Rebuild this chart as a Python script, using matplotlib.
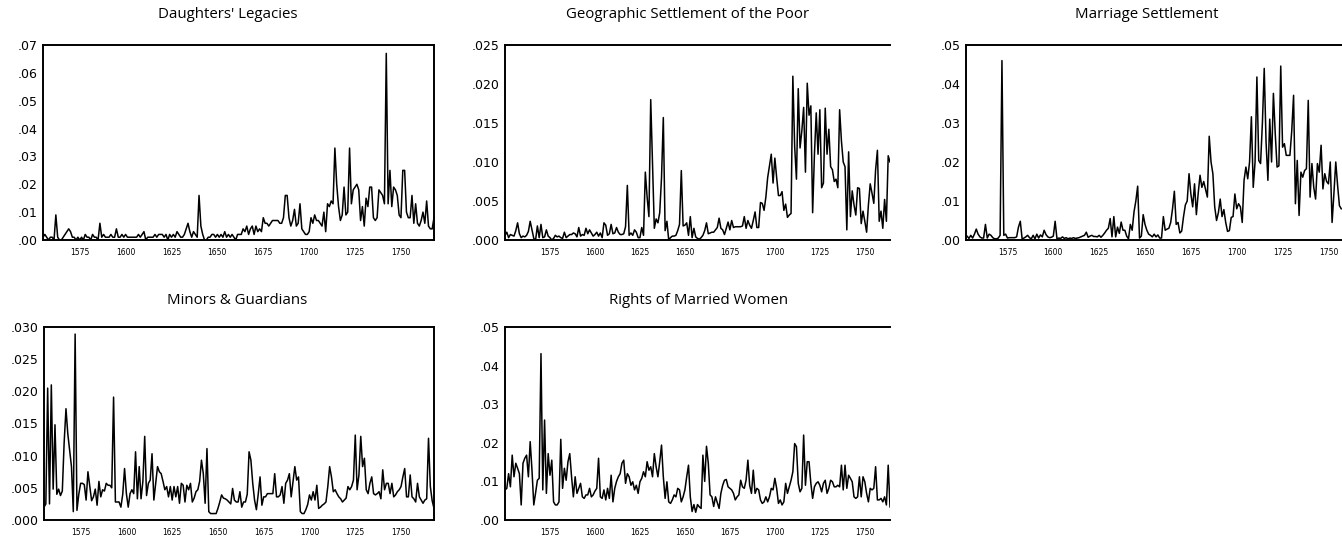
import numpy as np
import matplotlib
matplotlib.use('Agg')
from matplotlib import pyplot as plt
from matplotlib.ticker import FuncFormatter

# annual shares
daughters_start = 1555
daughters = [
    0.001, 0.002, 0.001, 0.000, 0.001, 0.001, 0.000, 0.009, 0.001, 0.000,
    0.000, 0.001, 0.002, 0.003, 0.004, 0.003, 0.001, 0.001, 0.000, 0.001,
    0.000, 0.001, 0.000, 0.002, 0.001, 0.001, 0.000, 0.002, 0.001, 0.001,
    0.000, 0.006, 0.001, 0.002, 0.001, 0.001, 0.001, 0.002, 0.001, 0.001,
    0.004, 0.001, 0.001, 0.002, 0.001, 0.002, 0.001, 0.001, 0.001, 0.001,
    0.001, 0.001, 0.002, 0.001, 0.002, 0.003, 0.000, 0.001, 0.001, 0.001,
    0.001, 0.002, 0.001, 0.002, 0.002, 0.002, 0.001, 0.002, 0.000, 0.002,
    0.001, 0.002, 0.001, 0.003, 0.002, 0.001, 0.001, 0.002, 0.004, 0.006,
    0.003, 0.001, 0.003, 0.002, 0.001, 0.016, 0.005, 0.002, 0.000, 0.000,
    0.001, 0.001, 0.002, 0.002, 0.001, 0.002, 0.001, 0.002, 0.001, 0.003,
    0.001, 0.002, 0.001, 0.002, 0.001, 0.000, 0.002, 0.002, 0.002, 0.004,
    0.003, 0.005, 0.002, 0.004, 0.005, 0.002, 0.005, 0.003, 0.004, 0.003,
    0.008, 0.006, 0.006, 0.005, 0.006, 0.007, 0.007, 0.007, 0.007, 0.006,
    0.006, 0.008, 0.016, 0.016, 0.008, 0.005, 0.007, 0.011, 0.005, 0.006,
    0.013, 0.004, 0.003, 0.002, 0.002, 0.003, 0.008, 0.006, 0.009, 0.007,
    0.007, 0.006, 0.005, 0.010, 0.003, 0.013, 0.012, 0.014, 0.013, 0.033,
    0.020, 0.012, 0.007, 0.009, 0.019, 0.009, 0.010, 0.033, 0.013, 0.018,
    0.019, 0.020, 0.018, 0.007, 0.012, 0.005, 0.015, 0.012, 0.019, 0.019,
    0.008, 0.007, 0.008, 0.018, 0.017, 0.016, 0.013, 0.067, 0.013, 0.025,
    0.012, 0.019, 0.018, 0.016, 0.009, 0.008, 0.025, 0.025, 0.010, 0.008,
    0.008, 0.016, 0.006, 0.013, 0.006, 0.005, 0.007, 0.010, 0.006, 0.014,
    0.005, 0.004, 0.004, 0.008,
]

poor_start = 1550
poor = [
    0.0006, 0.0010, 0.0003, 0.0007, 0.0006, 0.0005, 0.0012, 0.0022, 0.0008, 0.0003,
    0.0005, 0.0004, 0.0006, 0.0011, 0.0024, 0.0013, 0.0002, 0.0000, 0.0018, 0.0003,
    0.0020, 0.0003, 0.0004, 0.0013, 0.0005, 0.0003, 0.0000, 0.0002, 0.0006, 0.0004,
    0.0005, 0.0003, 0.0002, 0.0010, 0.0003, 0.0005, 0.0007, 0.0007, 0.0009, 0.0008,
    0.0004, 0.0016, 0.0005, 0.0007, 0.0006, 0.0015, 0.0008, 0.0013, 0.0009, 0.0005,
    0.0007, 0.0010, 0.0005, 0.0009, 0.0003, 0.0022, 0.0019, 0.0006, 0.0008, 0.0020,
    0.0008, 0.0009, 0.0016, 0.0010, 0.0007, 0.0007, 0.0008, 0.0017, 0.0070, 0.0006,
    0.0009, 0.0006, 0.0013, 0.0010, 0.0003, 0.0003, 0.0016, 0.0006, 0.0087, 0.0055,
    0.0030, 0.0180, 0.0095, 0.0015, 0.0027, 0.0022, 0.0035, 0.0080, 0.0157, 0.0012,
    0.0024, 0.0000, 0.0003, 0.0005, 0.0005, 0.0006, 0.0012, 0.0020, 0.0089, 0.0018,
    0.0019, 0.0022, 0.0006, 0.0030, 0.0003, 0.0015, 0.0004, 0.0002, 0.0001, 0.0003,
    0.0006, 0.0012, 0.0022, 0.0008, 0.0009, 0.0010, 0.0010, 0.0013, 0.0016, 0.0028,
    0.0015, 0.0013, 0.0007, 0.0015, 0.0023, 0.0013, 0.0025, 0.0016, 0.0017, 0.0017,
    0.0017, 0.0017, 0.0018, 0.0030, 0.0015, 0.0025, 0.0019, 0.0015, 0.0025, 0.0036,
    0.0016, 0.0016, 0.0048, 0.0047, 0.0038, 0.0055, 0.0080, 0.0095, 0.0110, 0.0073,
    0.0105, 0.0080, 0.0057, 0.0057, 0.0062, 0.0038, 0.0046, 0.0029, 0.0032, 0.0034,
    0.0210, 0.0120, 0.0078, 0.0194, 0.0118, 0.0140, 0.0170, 0.0087, 0.0201, 0.0160,
    0.0172, 0.0035, 0.0110, 0.0163, 0.0110, 0.0167, 0.0067, 0.0073, 0.0169, 0.0110,
    0.0142, 0.0094, 0.0090, 0.0075, 0.0078, 0.0067, 0.0167, 0.0127, 0.0100, 0.0094,
    0.0013, 0.0113, 0.0030, 0.0063, 0.0045, 0.0032, 0.0067, 0.0066, 0.0021, 0.0037,
    0.0024, 0.0010, 0.0045, 0.0072, 0.0060, 0.0047, 0.0090, 0.0115, 0.0024, 0.0037,
    0.0015, 0.0052, 0.0024, 0.0108, 0.0100,
]

marriage_start = 1552
marriage = [
    0.0005, 0.0010, 0.0004, 0.0012, 0.0005, 0.0015, 0.0028, 0.0015, 0.0008, 0.0005,
    0.0005, 0.0040, 0.0005, 0.0015, 0.0012, 0.0006, 0.0003, 0.0003, 0.0005, 0.0012,
    0.0460, 0.0012, 0.0015, 0.0005, 0.0006, 0.0006, 0.0006, 0.0006, 0.0008, 0.0033,
    0.0048, 0.0003, 0.0005, 0.0008, 0.0012, 0.0006, 0.0003, 0.0012, 0.0003, 0.0015,
    0.0005, 0.0013, 0.0008, 0.0025, 0.0014, 0.0008, 0.0006, 0.0007, 0.0010, 0.0048,
    0.0003, 0.0005, 0.0004, 0.0008, 0.0004, 0.0006, 0.0003, 0.0005, 0.0004, 0.0006,
    0.0004, 0.0005, 0.0006, 0.0008, 0.0010, 0.0012, 0.0020, 0.0007, 0.0010, 0.0012,
    0.0009, 0.0009, 0.0008, 0.0012, 0.0007, 0.0012, 0.0018, 0.0025, 0.0030, 0.0055,
    0.0008, 0.0060, 0.0008, 0.0033, 0.0017, 0.0046, 0.0025, 0.0025, 0.0010, 0.0003,
    0.0040, 0.0025, 0.0072, 0.0100, 0.0138, 0.0005, 0.0010, 0.0065, 0.0040, 0.0025,
    0.0015, 0.0012, 0.0008, 0.0015, 0.0008, 0.0013, 0.0005, 0.0005, 0.0060, 0.0025,
    0.0028, 0.0030, 0.0045, 0.0080, 0.0125, 0.0040, 0.0045, 0.0018, 0.0023, 0.0060,
    0.0090, 0.0100, 0.0170, 0.0118, 0.0085, 0.0144, 0.0065, 0.0120, 0.0166, 0.0135,
    0.0150, 0.0130, 0.0110, 0.0266, 0.0200, 0.0170, 0.0085, 0.0050, 0.0070, 0.0105,
    0.0060, 0.0078, 0.0045, 0.0022, 0.0024, 0.0058, 0.0060, 0.0118, 0.0080, 0.0093,
    0.0085, 0.0045, 0.0153, 0.0187, 0.0157, 0.0200, 0.0316, 0.0135, 0.0200, 0.0418,
    0.0204, 0.0196, 0.0300, 0.0440, 0.0250, 0.0153, 0.0310, 0.0200, 0.0376, 0.0273,
    0.0187, 0.0190, 0.0446, 0.0238, 0.0247, 0.0217, 0.0217, 0.0217, 0.0280, 0.0371,
    0.0093, 0.0204, 0.0063, 0.0174, 0.0161, 0.0178, 0.0183, 0.0358, 0.0110, 0.0196,
    0.0135, 0.0105, 0.0196, 0.0174, 0.0243, 0.0131, 0.0170, 0.0150, 0.0144, 0.0200,
    0.0045, 0.0120, 0.0200, 0.0140, 0.0088, 0.0080,
]

minors_start = 1555
minors = [
    0.0020, 0.0025, 0.0205, 0.0025, 0.0210, 0.0048, 0.0148, 0.0040, 0.0048, 0.0038,
    0.0045, 0.0120, 0.0173, 0.0134, 0.0109, 0.0083, 0.0013, 0.0289, 0.0015, 0.0040,
    0.0057, 0.0057, 0.0055, 0.0031, 0.0075, 0.0052, 0.0030, 0.0036, 0.0048, 0.0023,
    0.0060, 0.0036, 0.0047, 0.0045, 0.0057, 0.0054, 0.0054, 0.0050, 0.0191, 0.0028,
    0.0028, 0.0028, 0.0020, 0.0040, 0.0080, 0.0041, 0.0020, 0.0041, 0.0047, 0.0041,
    0.0106, 0.0033, 0.0083, 0.0033, 0.0060, 0.0130, 0.0038, 0.0057, 0.0062, 0.0103,
    0.0031, 0.0057, 0.0083, 0.0075, 0.0072, 0.0060, 0.0047, 0.0052, 0.0036, 0.0052,
    0.0031, 0.0052, 0.0036, 0.0052, 0.0026, 0.0057, 0.0054, 0.0028, 0.0054, 0.0047,
    0.0057, 0.0028, 0.0034, 0.0044, 0.0047, 0.0060, 0.0093, 0.0072, 0.0026, 0.0111,
    0.0013, 0.0010, 0.0010, 0.0010, 0.0010, 0.0018, 0.0028, 0.0039, 0.0034, 0.0033,
    0.0031, 0.0028, 0.0025, 0.0049, 0.0031, 0.0028, 0.0028, 0.0044, 0.0020, 0.0028,
    0.0028, 0.0040, 0.0106, 0.0093, 0.0057, 0.0031, 0.0016, 0.0040, 0.0067, 0.0023,
    0.0036, 0.0036, 0.0041, 0.0041, 0.0041, 0.0041, 0.0072, 0.0036, 0.0036, 0.0039,
    0.0052, 0.0026, 0.0057, 0.0062, 0.0072, 0.0036, 0.0060, 0.0083, 0.0062, 0.0067,
    0.0013, 0.0010, 0.0010, 0.0016, 0.0024, 0.0039, 0.0031, 0.0044, 0.0031, 0.0054,
    0.0018, 0.0020, 0.0023, 0.0025, 0.0028, 0.0052, 0.0083, 0.0067, 0.0044, 0.0047,
    0.0041, 0.0036, 0.0033, 0.0028, 0.0031, 0.0034, 0.0052, 0.0047, 0.0052, 0.0062,
    0.0132, 0.0047, 0.0070, 0.0130, 0.0083, 0.0096, 0.0047, 0.0041, 0.0057, 0.0067,
    0.0041, 0.0039, 0.0041, 0.0044, 0.0033, 0.0078, 0.0047, 0.0057, 0.0057, 0.0041,
    0.0057, 0.0036, 0.0039, 0.0044, 0.0047, 0.0052, 0.0067, 0.0080, 0.0036, 0.0036,
    0.0070, 0.0036, 0.0033, 0.0028, 0.0057, 0.0036, 0.0031, 0.0026, 0.0031, 0.0033,
    0.0127, 0.0052, 0.0030, 0.0018,
]

wives_start = 1550
wives = [
    0.0078, 0.0082, 0.0120, 0.0086, 0.0168, 0.0112, 0.0147, 0.0134, 0.0120, 0.0039,
    0.0147, 0.0160, 0.0168, 0.0112, 0.0203, 0.0129, 0.0039, 0.0070, 0.0103, 0.0108,
    0.0431, 0.0078, 0.0259, 0.0069, 0.0172, 0.0116, 0.0155, 0.0047, 0.0039, 0.0039,
    0.0047, 0.0209, 0.0082, 0.0134, 0.0103, 0.0151, 0.0172, 0.0112, 0.0060, 0.0112,
    0.0069, 0.0082, 0.0095, 0.0060, 0.0056, 0.0065, 0.0065, 0.0082, 0.0060, 0.0065,
    0.0075, 0.0082, 0.0160, 0.0060, 0.0056, 0.0078, 0.0052, 0.0082, 0.0056, 0.0116,
    0.0047, 0.0082, 0.0100, 0.0112, 0.0120, 0.0147, 0.0155, 0.0095, 0.0120, 0.0112,
    0.0090, 0.0099, 0.0078, 0.0090, 0.0069, 0.0099, 0.0108, 0.0125, 0.0112, 0.0151,
    0.0129, 0.0138, 0.0112, 0.0172, 0.0138, 0.0112, 0.0151, 0.0194, 0.0112, 0.0056,
    0.0099, 0.0047, 0.0043, 0.0052, 0.0065, 0.0060, 0.0082, 0.0078, 0.0047, 0.0060,
    0.0078, 0.0112, 0.0142, 0.0060, 0.0022, 0.0040, 0.0020, 0.0040, 0.0034, 0.0030,
    0.0168, 0.0100, 0.0191, 0.0147, 0.0065, 0.0060, 0.0035, 0.0060, 0.0045, 0.0030,
    0.0069, 0.0090, 0.0103, 0.0105, 0.0086, 0.0082, 0.0078, 0.0069, 0.0052, 0.0060,
    0.0065, 0.0103, 0.0086, 0.0082, 0.0103, 0.0155, 0.0090, 0.0069, 0.0129, 0.0069,
    0.0082, 0.0078, 0.0052, 0.0043, 0.0047, 0.0060, 0.0047, 0.0060, 0.0082, 0.0078,
    0.0108, 0.0082, 0.0043, 0.0052, 0.0039, 0.0047, 0.0095, 0.0069, 0.0086, 0.0103,
    0.0125, 0.0198, 0.0190, 0.0095, 0.0073, 0.0082, 0.0220, 0.0090, 0.0151, 0.0151,
    0.0095, 0.0056, 0.0086, 0.0095, 0.0099, 0.0090, 0.0073, 0.0095, 0.0103, 0.0069,
    0.0082, 0.0103, 0.0099, 0.0086, 0.0086, 0.0090, 0.0086, 0.0142, 0.0078, 0.0142,
    0.0082, 0.0116, 0.0108, 0.0099, 0.0060, 0.0056, 0.0060, 0.0112, 0.0060, 0.0112,
    0.0099, 0.0069, 0.0047, 0.0082, 0.0078, 0.0082, 0.0138, 0.0052, 0.0052, 0.0056,
    0.0047, 0.0060, 0.0039, 0.0142, 0.0034,
]

titles = ["Daughters' Legacies", 'Geographic Settlement of the Poor', 'Marriage Settlement',
          'Minors & Guardians', 'Rights of Married Women']
year_ticks = [1575, 1600, 1625, 1650, 1675, 1700, 1725, 1750]

W, H = 1342, 544
fig = plt.figure(figsize=(W / 100, H / 100), dpi=100)

# panel boxes in pixels (left, top, right, bottom), right-hand panels are cut off like the source
panels = [
    (daughters_start, daughters, (43, 45, 434, 240), (1555, 1768), 0.07, 0.01, 2, True),
    (poor_start, poor, (505, 45, 890, 240), (1550, 1764), 0.025, 0.005, 3, False),
    (marriage_start, marriage, (966, 45, 1342, 240), (1552.4, 1757.4), 0.05, 0.01, 2, False),
    (minors_start, minors, (44, 327, 434, 520), (1555, 1768), 0.030, 0.005, 3, True),
    (wives_start, wives, (505, 327, 890, 520), (1550, 1764), 0.05, 0.01, 2, False),
]
title_pos = [(228, 14), (688, 14), (1147, 14), (237, 300), (699, 300)]

for i, (start, vals, box, xl, ymax, ystep, dec, right) in enumerate(panels):
    x0, y0, x1, y1 = box
    ax = fig.add_axes([x0 / W, 1 - y1 / H, (x1 - x0) / W, (y1 - y0) / H])
    years = np.arange(start, start + len(vals))
    ax.plot(years, vals, color='black', lw=1.1)
    ax.set_xlim(xl)
    ax.set_ylim(0, ymax)
    ax.set_xticks(year_ticks)
    ax.set_yticks(np.arange(0, ymax + ystep / 2, ystep))
    fmt = '%.' + str(dec) + 'f'
    ax.yaxis.set_major_formatter(FuncFormatter(lambda v, p, f=fmt: (f % v)[1:]))
    ax.tick_params(axis='x', length=0, pad=6, labelsize=5.5)
    ax.tick_params(axis='y', length=0, pad=4, labelsize=9)
    for s in ax.spines.values():
        s.set_linewidth(1.4)
    ax.spines['right'].set_visible(right)
    fig.text(title_pos[i][0] / W, 1 - title_pos[i][1] / H, titles[i], ha='center', va='center',
             fontsize=10.8, family=['Open Sans', 'DejaVu Sans'])

plt.savefig('out.png', dpi=100)
